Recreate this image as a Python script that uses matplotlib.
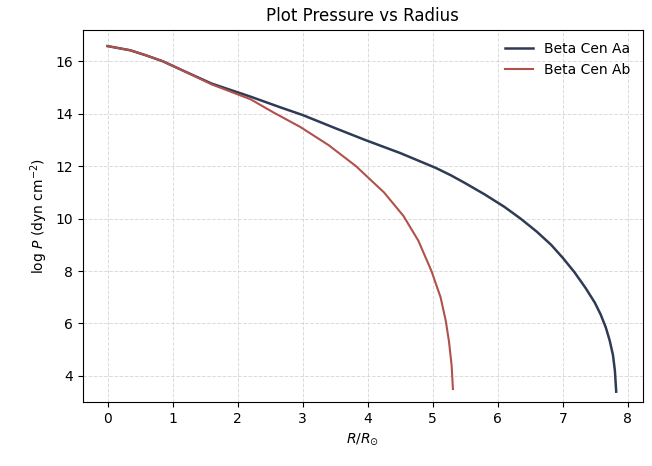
import matplotlib
matplotlib.use('Agg')
import matplotlib.pyplot as plt
import numpy as np

# radius (R/Rsun) and log pressure
r_aa = [0.0, 0.35, 0.6, 0.85, 1.2, 1.6, 2.2, 2.65, 3.0, 3.5, 3.96, 4.5, 4.77, 5.05, 5.28, 5.5,
        5.8, 6.1, 6.35, 6.6, 6.82, 7.0, 7.18, 7.35, 7.49, 7.58, 7.66, 7.72, 7.77, 7.8, 7.82]
logp_aa = [16.58, 16.42, 16.22, 16.0, 15.6, 15.15, 14.65, 14.25, 13.95, 13.45, 13.0, 12.5, 12.22, 11.93, 11.65, 11.35,
           10.92, 10.45, 10.0, 9.5, 9.0, 8.5, 7.95, 7.35, 6.8, 6.35, 5.85, 5.35, 4.8, 4.2, 3.4]

r_ab = [0.0, 0.35, 0.6, 0.85, 1.2, 1.6, 2.2, 2.55, 2.96, 3.4, 3.82, 4.25, 4.55, 4.78, 4.98,
        5.12, 5.2, 5.25, 5.29, 5.31]
logp_ab = [16.58, 16.42, 16.22, 16.0, 15.6, 15.12, 14.55, 14.05, 13.5, 12.8, 12.0, 11.0, 10.1, 9.15, 8.0,
           7.0, 6.1, 5.3, 4.4, 3.5]

fig = plt.figure(figsize=(6.52, 4.66), dpi=100)
ax = fig.add_axes([0.127, 0.137, 0.859, 0.799])

ax.plot(r_aa, logp_aa, color='#2f3b55', linewidth=1.8, label='Beta Cen Aa')
ax.plot(r_ab, logp_ab, color='#b0514b', linewidth=1.5, label='Beta Cen Ab')

ax.set_xlim(-0.38, 8.23)
ax.set_ylim(3.0, 17.2)
ax.set_xticks(range(0, 9))
ax.set_yticks(range(4, 17, 2))
ax.grid(True, color='#cccccc', linestyle='--', linewidth=0.7, alpha=0.7)

ax.set_xlabel(r'$R/R_{\odot}$')
ax.set_ylabel(r'log $P$ (dyn cm$^{-2}$)')
ax.set_title('Plot Pressure vs Radius')
ax.legend(frameon=False)

fig.savefig('out.png', dpi=100)
